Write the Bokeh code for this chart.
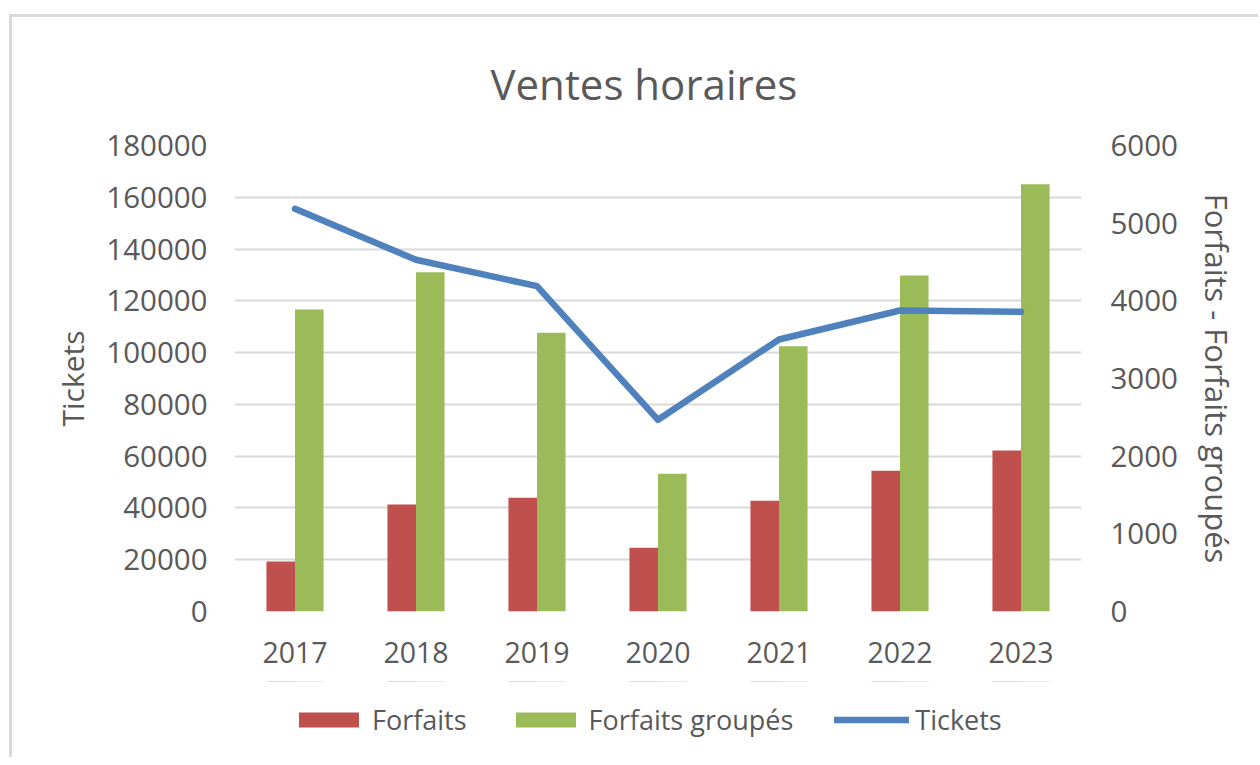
from bokeh.plotting import figure
from bokeh.layouts import column
from bokeh.models import (Range1d, LinearAxis, FixedTicker, Legend, LegendItem,
                          BasicTickFormatter, Title, FactorRange, ColumnDataSource)
from bokeh.transform import dodge
from bokeh.embed import file_html
from bokeh.resources import INLINE

years = ["2017", "2018", "2019", "2020", "2021", "2022", "2023"]
forfaits = [644, 1378, 1464, 820, 1425, 1811, 2073]
forfaits_groupes = [3888, 4369, 3588, 1773, 3416, 4326, 5502]
tickets = [155550, 135850, 125660, 74040, 105060, 116270, 115750]

left_ticks = [0, 20000, 40000, 60000, 80000, 100000, 120000, 140000, 160000, 180000]
right_ticks = [0, 1000, 2000, 3000, 4000, 5000, 6000]
series_names = ["Forfaits", "Forfaits groupés", "Tickets"]

TXT = "#595959"
FONT = "Open Sans"
RED, GREEN, BLUE = "#C0504D", "#9BBB59", "#4F81BD"

src = ColumnDataSource(dict(year=years, forfaits=forfaits, groupes=forfaits_groupes, tickets=tickets))


def add_series(fig):
    a = fig.vbar(x=dodge("year", -0.118, range=fig.x_range), top="forfaits", width=0.236,
                 y_range_name="right", source=src, fill_color=RED, line_color=None)
    b = fig.vbar(x=dodge("year", 0.118, range=fig.x_range), top="groupes", width=0.236,
                 y_range_name="right", source=src, fill_color=GREEN, line_color=None)
    c = fig.line(x="year", y="tickets", source=src, line_width=6.5, line_color=BLUE,
                 line_cap="round", line_join="round")
    return a, b, c


p = figure(x_range=FactorRange(*years), y_range=Range1d(0, 180000),
           width=1246, height=664, output_backend="svg", toolbar_location=None,
           min_border_left=222, min_border_right=177, min_border_top=128, min_border_bottom=70)
p.outline_line_color = None
p.background_fill_color = "white"
p.border_fill_color = "white"
p.extra_y_ranges = {"right": Range1d(0, 6000)}
add_series(p)

p.title = Title(text="Ventes horaires", align="left", text_font_size="42px",
                text_font=FONT, text_color=TXT, text_font_style="normal",
                offset=256, standoff=68)


def style_axis(ax, tick_size="29px", label_size="30px"):
    ax.axis_line_color = None
    ax.major_tick_line_color = None
    ax.minor_tick_line_color = None
    ax.major_tick_in = 0
    ax.major_tick_out = 0
    ax.major_label_text_font = FONT
    ax.major_label_text_font_size = tick_size
    ax.major_label_text_color = TXT
    ax.axis_label_text_font = FONT
    ax.axis_label_text_font_size = label_size
    ax.axis_label_text_color = TXT
    ax.axis_label_text_font_style = "normal"


ly = p.yaxis[0]
ly.ticker = FixedTicker(ticks=left_ticks)
ly.formatter = BasicTickFormatter(use_scientific=False)
ly.axis_label = "Tickets"
style_axis(ly, "29.5px", "30px")
ly.major_label_standoff = 27
ly.axis_label_standoff = 10

ry = LinearAxis(y_range_name="right", ticker=FixedTicker(ticks=right_ticks),
                formatter=BasicTickFormatter(use_scientific=False),
                axis_label="Forfaits - Forfaits groupés")
style_axis(ry, "29.5px", "31px")
ry.major_label_standoff = 29
ry.axis_label_standoff = 15
p.add_layout(ry, "right")

xa = p.xaxis[0]
style_axis(xa, "28.5px")
xa.major_label_standoff = 30

p.xgrid.visible = False
p.ygrid.ticker = FixedTicker(ticks=left_ticks)
p.ygrid.grid_line_color = "#D9D9D9"
p.ygrid.grid_line_width = 2

# legend strip below the chart (same series, drawn outside its visible range)
lg = figure(width=1246, height=76, x_range=FactorRange(*years), y_range=Range1d(-2e6, -1e6),
            output_backend="svg", toolbar_location=None,
            x_axis_location=None, y_axis_location=None,
            min_border_left=222, min_border_right=177, min_border_top=0, min_border_bottom=0)
lg.outline_line_color = None
lg.xgrid.visible = False
lg.ygrid.visible = False
lg.background_fill_color = "white"
lg.border_fill_color = "white"
lg.extra_y_ranges = {"right": Range1d(-2e6, -1e6)}
k1, k2, k3 = add_series(lg)

legend = Legend(items=[LegendItem(label=series_names[0], renderers=[k1]),
                       LegendItem(label=series_names[1], renderers=[k2]),
                       LegendItem(label=series_names[2], renderers=[k3])],
                orientation="horizontal", location=(57, 19),
                border_line_color=None, background_fill_alpha=0,
                label_text_font=FONT, label_text_font_size="27px", label_text_color=TXT,
                glyph_width=75, glyph_height=19, spacing=41, label_standoff=6,
                padding=0, margin=0)
lg.add_layout(legend)

layout = column(p, lg, spacing=0)
layout.styles = {"border-left": "3px solid #D9D9D9", "border-top": "3px solid #D9D9D9",
                 "margin-left": "9px", "margin-top": "14px"}

open("out.html", "w").write(file_html(layout, INLINE))
